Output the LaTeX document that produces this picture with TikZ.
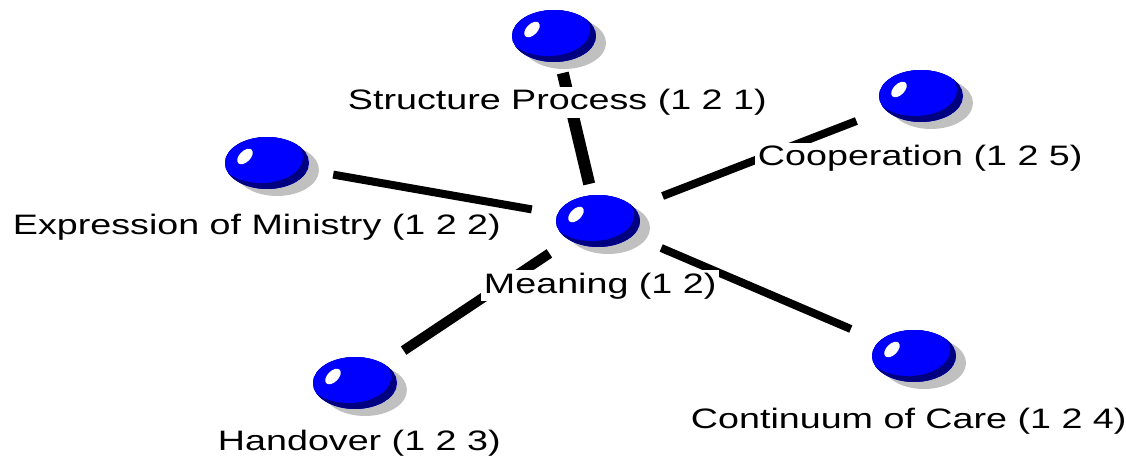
\documentclass[tikz,border=0pt]{standalone}
\usepackage{fontspec}
\usepackage{tikz}
\usetikzlibrary{shapes.geometric, shadows, calc}
\newfontfamily\lblfont{Liberation Sans}[FakeStretch=1.34]
\definecolor{ballblue}{HTML}{0000FF}
\definecolor{balldark}{HTML}{000080}
\definecolor{shadowgray}{HTML}{C0C0C0}

\begin{document}
\begin{tikzpicture}[
    x=0.02cm, y=-0.02cm,
    ball/.style={ellipse, minimum width=1.68cm, minimum height=1.04cm, inner sep=0pt, fill=ballblue,
        drop shadow={shadow xshift=0.2cm, shadow yshift=-0.14cm, fill=shadowgray, opacity=1},
        path picture={
            \fill[balldark] (path picture bounding box.center) ellipse [x radius=0.84cm, y radius=0.52cm];
            \fill[ballblue] ([shift={(-0.12cm,0.12cm)}]path picture bounding box.center) ellipse [x radius=0.84cm, y radius=0.52cm];
            \fill[white] ([shift={(-0.44cm,0.13cm)}]path picture bounding box.center) circle [x radius=0.19cm, y radius=0.11cm, rotate=45];
        }},
    link/.style={line width=0.16cm},
    lbl/.style={fill=white, inner sep=1.5pt, anchor=base west, font=\lblfont\fontsize{16}{19}\selectfont}
]
\useasboundingbox (0,0) rectangle (1126,456);

\node[ball] (meaning) at (598,221) {};
\node[ball] (structure) at (554,36) {};
\node[ball] (cooperation) at (921,96) {};
\node[ball] (expression) at (267,163) {};
\node[ball] (handover) at (355,383) {};
\node[ball] (continuum) at (914,356) {};

\draw[link, line width=0.24cm] ($(meaning)!0.2!(structure)$) -- ($(meaning)!0.8!(structure)$);
\draw[link] ($(meaning)!0.2!(cooperation)$) -- ($(meaning)!0.8!(cooperation)$);
\draw[link] ($(meaning)!0.2!(expression)$) -- ($(meaning)!0.8!(expression)$);
\draw[link, line width=0.2cm] ($(meaning)!0.2!(handover)$) -- ($(meaning)!0.8!(handover)$);
\draw[link] ($(meaning)!0.2!(continuum)$) -- ($(meaning)!0.8!(continuum)$);

\node[lbl] (structure-lbl) at (345,110) {Structure Process (1 2 1)};
\node[lbl] (cooperation-lbl) at (755,166) {Cooperation (1 2 5)};
\node[lbl] (expression-lbl) at (10,235) {Expression of Ministry (1 2 2)};
\node[lbl] (meaning-lbl) at (481,293) {Meaning (1 2)};
\node[lbl] (handover-lbl) at (215,450) {Handover (1 2 3)};
\node[lbl] (continuum-lbl) at (688,428) {Continuum of Care (1 2 4)};

\end{tikzpicture}
\end{document}
